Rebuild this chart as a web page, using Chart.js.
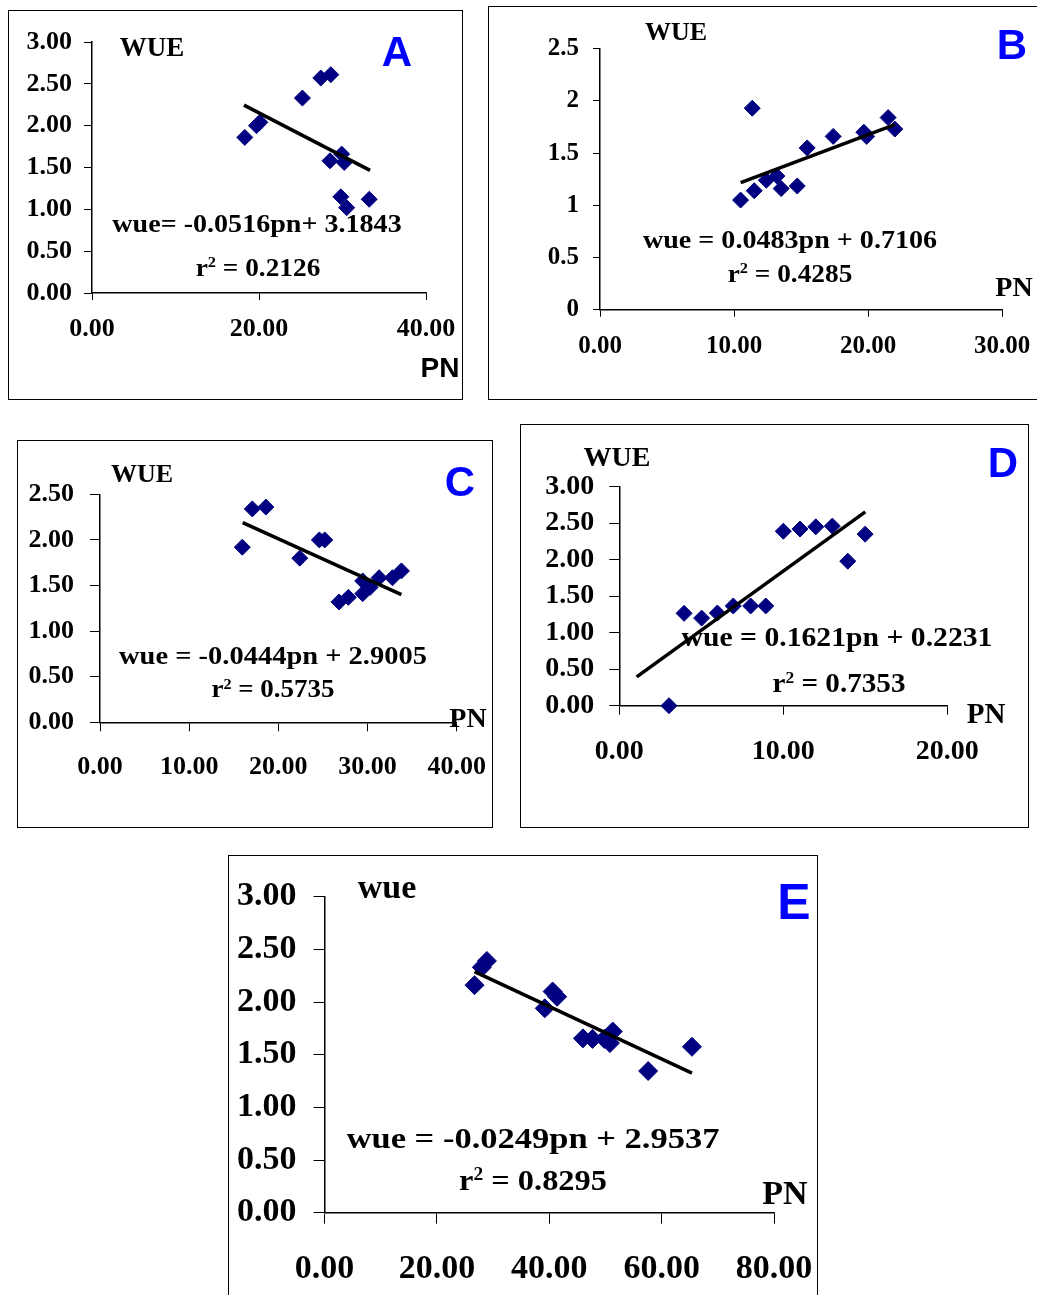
<!DOCTYPE html>
<html lang="en">
<head>
<meta charset="UTF-8">
<title>WUE vs PN</title>
<script src="https://cdn.jsdelivr.net/npm/chart.js"></script>
<style>
  body { margin:0; width:1037px; height:1295px; overflow:hidden; background:#fff; position:relative;
         font-family:'Liberation Serif','Times New Roman',serif; }
  .frame { position:absolute; border:1.5px solid #000; box-sizing:border-box; }
  canvas { position:absolute; }
  .txt { position:absolute; white-space:nowrap; font-weight:bold; color:#000; line-height:1; }
  .sans { font-family:'Liberation Sans',Arial,sans-serif; }
  .tag { font-family:'Liberation Sans',Arial,sans-serif; color:#0000ff; }
  .sup { font-size:0.6em; position:relative; top:-0.55em; }
</style>
</head>
<body>
<script>
// panel A
const pnA  = [18.3, 19.7, 20.1, 25.2, 27.4, 28.6, 28.5, 29.9, 30.2, 29.8, 30.5, 33.2];
const wueA = [1.86, 2.00, 2.04, 2.33, 2.57, 2.61, 1.58, 1.66, 1.56, 1.15, 1.02, 1.12];
// panel B
const pnB  = [10.49, 11.36, 11.51, 12.41, 13.2, 13.52, 14.72, 15.46, 17.4, 19.69, 19.9, 21.5, 22.0];
const wueB = [1.05, 1.93, 1.14, 1.24, 1.28, 1.16, 1.185, 1.55, 1.66, 1.70, 1.66, 1.84, 1.73];
// panel C
const pnC  = [15.96, 17.08, 18.6, 22.4, 24.6, 25.2, 26.8, 27.85, 29.46, 29.46, 30.3, 31.3, 32.8, 33.8];
const wueC = [1.92, 2.34, 2.36, 1.80, 2.00, 2.00, 1.32, 1.37, 1.41, 1.55, 1.48, 1.585, 1.585, 1.66];
// panel D
const pnD  = [3.03, 3.95, 5.02, 5.98, 6.95, 8.01, 8.93, 10.0, 11.02, 11.98, 12.99, 13.93, 14.99];
const wueD = [0, 1.265, 1.20, 1.27, 1.366, 1.366, 1.366, 2.39, 2.42, 2.45, 2.46, 1.98, 2.35];
// panel E
const pnE  = [26.7, 28.0, 28.9, 39.2, 40.6, 41.4, 46.0, 47.7, 49.8, 50.8, 51.3, 57.6, 65.4];
const wueE = [2.16, 2.33, 2.39, 1.94, 2.10, 2.05, 1.655, 1.65, 1.65, 1.61, 1.72, 1.345, 1.575];

// trendlines: slope, intercept (as printed), x range drawn
const slopes     = [-0.0516, 0.0483, -0.0444, 0.1621, -0.0249];
const intercepts = [3.1843, 0.7106, 2.9005, 0.2231, 2.9537];
const trendFrom  = [18.2, 10.5, 16.0, 1.06, 26.7];
const trendTo    = [33.3, 22.0, 33.8, 15.0, 65.4];

const equations = ['wue= -0.0516pn+ 3.1843', 'wue = 0.0483pn + 0.7106', 'wue = -0.0444pn + 2.9005',
                   'wue = 0.1621pn + 0.2231', 'wue = -0.0249pn + 2.9537'];
const r2Labels  = ['0.2126', '0.4285', '0.5735', '0.7353', '0.8295'];
const panelTags = ['A', 'B', 'C', 'D', 'E'];
const yTitles   = ['WUE', 'WUE', 'WUE', 'WUE', 'wue'];

const SERIF = "'Liberation Serif','Times New Roman',serif";

// layout of each panel (page pixels): frame box, plot area, ticks and text spots [x, y, size, stretch]
const panels = [
  { frame:[8,10,455,390], area:[92,42,426,293], xMax:40, xStep:20, yMax:3, yDec:2,
    font:26, yTick:8, yPad:12, xTick:7, xPad:14, r:8,
    yt:[152,47,27,1], tag:[397,52,42,1], pn:[440,368,28,1], eq:[257,224,26,1.08], r2:[258,268,26,1.05], pnSans:true },
  { frame:[488,6,552,394], area:[600,48.7,1002,309.7], xMax:30, xStep:10, yMax:2.5, yDec:-1,
    font:25, yTick:7, yPad:14, xTick:7, xPad:15, r:8,
    yt:[676,32,26,1], tag:[1012,45,42,1], pn:[1014,287,28,1], eq:[790,240,26,1.08], r2:[790,274,26,1.05] },
  { frame:[17,440,476,388], area:[100,494.3,456.7,722.3], xMax:40, xStep:10, yMax:2.5, yDec:2,
    font:26, yTick:10, yPad:16, xTick:9, xPad:20, r:8,
    yt:[142,474,26,1], tag:[460,482,42,1], pn:[468,718,28,1], eq:[273,655,25,1.14], r2:[273,688,25,1.08] },
  { frame:[520,424,509,404], area:[619.3,486.7,947.3,705.7], xMax:20, xStep:10, yMax:3, yDec:2,
    font:28, yTick:10, yPad:15, xTick:9, xPad:20, r:8,
    yt:[617,457,28,1], tag:[1003,463,42,1], pn:[986,713,29,1], eq:[837,637,28,1.06], r2:[839,683,28,1.04] },
  { frame:[228,855,590,445], area:[324.5,896.7,774,1212.7], xMax:80, xStep:20, yMax:3, yDec:2,
    font:34, yTick:11, yPad:17, xTick:11, xPad:25, r:9.5,
    yt:[387,887,34,1], tag:[794,902,50,1], pn:[785,1193,34,1], eq:[533,1138,30,1.15], r2:[533,1180,30,1.08] }
];
const pnData  = [pnA, pnB, pnC, pnD, pnE];
const wueData = [wueA, wueB, wueC, wueD, wueE];

function addText(html, spot, cls) {
  const d = document.createElement('div');
  d.className = 'txt' + (cls ? ' ' + cls : '');
  d.style.left = spot[0] + 'px';
  d.style.top = spot[1] + 'px';
  d.style.fontSize = spot[2] + 'px';
  d.style.transform = 'translate(-50%,-50%) scaleX(' + spot[3] + ')';
  d.innerHTML = html;
  document.body.appendChild(d);
}

panels.forEach((p, i) => {
  const [fl, ft, fw, fh] = p.frame;
  const [al, at, ar, ab] = p.area;

  const frame = document.createElement('div');
  frame.className = 'frame';
  Object.assign(frame.style, { left: fl + 'px', top: ft + 'px', width: fw + 'px', height: fh + 'px' });
  document.body.appendChild(frame);

  const canvas = document.createElement('canvas');
  canvas.width = fw; canvas.height = fh;
  Object.assign(canvas.style, { left: fl + 'px', top: ft + 'px', width: fw + 'px', height: fh + 'px' });
  document.body.appendChild(canvas);

  const pts = pnData[i].map((x, k) => ({ x: x, y: wueData[i][k] }));
  const trend = [trendFrom[i], trendTo[i]].map(x => ({ x: x, y: slopes[i] * x + intercepts[i] }));
  const tickFont = { family: SERIF, weight: 'bold', size: p.font };

  new Chart(canvas, {
    type: 'scatter',
    data: {
      datasets: [
        { data: trend, showLine: true, borderColor: '#000', borderWidth: 3.5, pointRadius: 0, clip: false },
        { data: pts, pointStyle: 'rectRot', pointRadius: p.r, backgroundColor: '#000080',
          borderColor: '#000080', borderWidth: 1, clip: false }
      ]
    },
    options: {
      responsive: false,
      animation: false,
      layout: { padding: { left: 0, top: at - ft, right: fl + fw - ar, bottom: 0 } },
      plugins: { legend: { display: false }, tooltip: { enabled: false } },
      scales: {
        x: {
          type: 'linear', min: 0, max: p.xMax,
          ticks: { stepSize: p.xStep, padding: p.xPad, color: '#000', font: tickFont,
                   maxRotation: 0, autoSkip: false, callback: v => v.toFixed(2) },
          grid: { drawOnChartArea: false, drawTicks: true, tickLength: p.xTick, color: '#000' },
          border: { display: true, color: '#000', width: 1.5 },
          afterFit: s => { s.height = ft + fh - ab; s.paddingLeft = 0; s.paddingRight = 0; }
        },
        y: {
          type: 'linear', min: 0, max: p.yMax,
          ticks: { stepSize: 0.5, padding: p.yPad, color: '#000', font: tickFont, autoSkip: false,
                   callback: v => p.yDec < 0 ? String(v) : v.toFixed(p.yDec) },
          grid: { drawOnChartArea: false, drawTicks: true, tickLength: p.yTick, color: '#000' },
          border: { display: true, color: '#000', width: 1.5 },
          afterFit: s => { s.width = al - fl; s.paddingTop = 0; s.paddingBottom = 0; }
        }
      }
    }
  });

  addText(yTitles[i], p.yt);
  addText(panelTags[i], p.tag, 'tag');
  addText('PN', p.pn, p.pnSans ? 'sans' : '');
  addText(equations[i], p.eq);
  addText('r<span class="sup">2</span> = ' + r2Labels[i], p.r2);
});
</script>
</body>
</html>
